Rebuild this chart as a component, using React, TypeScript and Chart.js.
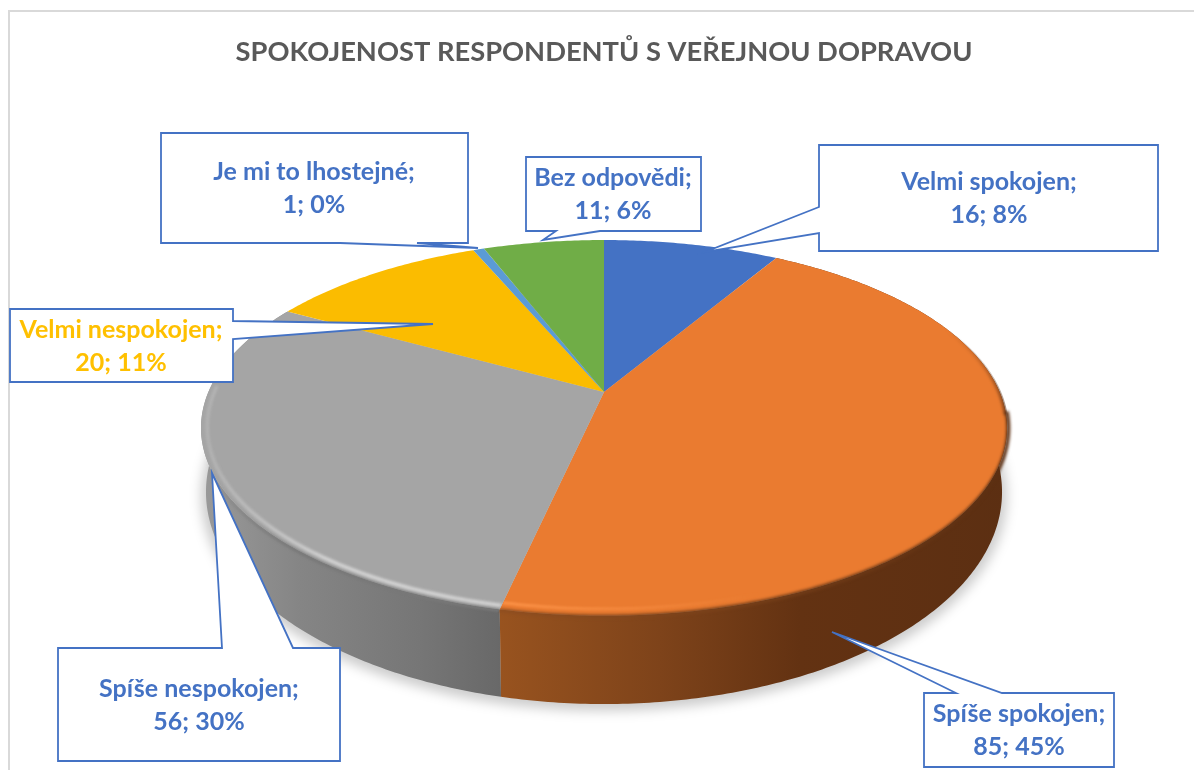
import React, { useEffect, useRef } from "react";
import { Chart, registerables } from "chart.js";

Chart.register(...registerables);

const titleText = "SPOKOJENOST RESPONDENTŮ S VEŘEJNOU DOPRAVOU";
const categories = ["Velmi spokojen", "Spíše spokojen", "Spíše nespokojen", "Velmi nespokojen", "Je mi to lhostejné", "Bez odpovědi"];
const values = [16, 85, 56, 20, 1, 11];
const percents = [8, 45, 30, 11, 0, 6];
const sliceColors = ["#4472C4", "#EA7B30", "#A5A5A5", "#FBBC00", "#5B9BD5", "#70AD47"];
const labelColors = ["#4472C4", "#4472C4", "#4472C4", "#FFC000", "#4472C4", "#4472C4"];

// Callout outlines (box + pointer), same order as categories.
const calloutShapes: number[][][] = [
  [[819, 145], [1158, 145], [1158, 251], [819, 251], [819, 233], [705, 252], [819, 207]],
  [[924, 693], [956, 693], [832, 632], [1002, 693], [1114, 693], [1114, 767], [924, 767]],
  [[58, 648], [222, 648], [212, 473], [293, 648], [340, 648], [340, 761], [58, 761]],
  [[10, 309], [233, 309], [233, 321], [433, 324], [233, 339], [233, 382], [10, 382]],
  [[161, 133], [468, 133], [468, 243], [417, 243], [478, 248], [340, 243], [161, 243]],
  [[526, 157], [701, 157], [701, 231], [600, 231], [543, 240], [556, 231], [526, 231]],
];
const calloutCentres = [[989, 198], [1019, 730], [199, 704.5], [121, 345.5], [314, 188], [613, 194]];

// Perspective projection of the pie disc.
const topDisc = { cx: 604, cy: 392, a: 395.6, b: 181, k: 0.191 };
const baseDisc = { cx: 604, cy: 451.5, a: 390.7, b: 204.3, k: 0.191 };
const FONT = "Lato, 'Open Sans', sans-serif";

type Disc = typeof topDisc;
const project = (d: Disc, arcAngle: number, r = 1) => {
  const t = arcAngle + Math.PI / 2;
  const X = Math.sin(t) * r;
  const Y = -Math.cos(t) * r;
  const w = 1 - d.k * Y;
  return [d.cx + (d.a * X) / w, d.cy + (d.b * Y) / w];
};
const rimPath = (ctx: CanvasRenderingContext2D, d: Disc, a0: number, a1: number, r = 1, move = true) => {
  const n = Math.max(2, Math.ceil(Math.abs(a1 - a0) * 90));
  for (let i = 0; i <= n; i++) {
    const [x, y] = project(d, a0 + ((a1 - a0) * i) / n, r);
    if (i === 0 && move) ctx.moveTo(x, y);
    else ctx.lineTo(x, y);
  }
};

const sideStops: Record<number, [number, string][]> = {
  1: [[500, "#98531F"], [660, "#7E431A"], [800, "#633212"], [1010, "#5C2F12"]],
  2: [[200, "#9A9A9A"], [300, "#858585"], [420, "#767676"], [503, "#686868"]],
};

const pie3d = {
  id: "pie3d",
  beforeDraw(chart: any) {
    const { ctx, width, height } = chart;
    ctx.save();
    ctx.fillStyle = "#FFFFFF";
    ctx.fillRect(0, 0, width, height);
    ctx.strokeStyle = "#D9D9D9";
    ctx.lineWidth = 2;
    ctx.beginPath();
    ctx.moveTo(9, height + 2);
    ctx.lineTo(9, 11);
    ctx.lineTo(width + 2, 11);
    ctx.stroke();
    ctx.restore();
  },
  beforeDatasetDraw(chart: any) {
    const { ctx } = chart;
    const arcs = chart.getDatasetMeta(0).data;

    // soft shadow under the base
    ctx.save();
    ctx.filter = "blur(6px)";
    ctx.fillStyle = "rgba(0,0,0,0.2)";
    ctx.beginPath();
    ctx.ellipse(604, 496, 403, 215, 0, 0, Math.PI * 2);
    ctx.fill();
    ctx.restore();

    // side walls
    [2, 1].forEach((i) => {
      const arc = arcs[i];
      const stops = sideStops[i];
      const g = ctx.createLinearGradient(stops[0][0], 0, stops[stops.length - 1][0], 0);
      const span = stops[stops.length - 1][0] - stops[0][0];
      stops.forEach(([x, c]) => g.addColorStop((x - stops[0][0]) / span, c));
      ctx.fillStyle = g;
      ctx.beginPath();
      rimPath(ctx, topDisc, arc.startAngle, arc.endAngle);
      rimPath(ctx, baseDisc, arc.endAngle, arc.startAngle, 1, false);
      ctx.closePath();
      ctx.fill();
    });

    // top faces
    arcs.forEach((arc: any, i: number) => {
      ctx.fillStyle = sliceColors[i];
      ctx.beginPath();
      ctx.moveTo(topDisc.cx, topDisc.cy);
      rimPath(ctx, topDisc, arc.startAngle, arc.endAngle, 1, false);
      ctx.closePath();
      ctx.fill();
    });

    // bevel on the visible rim
    const rim = (i: number, a0: number, a1: number, r: number, lw: number, blur: number, color: any, clipR = 1.03) => {
      ctx.save();
      ctx.beginPath();
      ctx.moveTo(topDisc.cx, topDisc.cy);
      rimPath(ctx, topDisc, arcs[i].startAngle, arcs[i].endAngle, clipR, false);
      ctx.closePath();
      ctx.clip();
      ctx.filter = `blur(${blur}px)`;
      ctx.strokeStyle = color;
      ctx.lineWidth = lw;
      ctx.beginPath();
      rimPath(ctx, topDisc, a0, a1, r);
      ctx.stroke();
      ctx.restore();
    };
    const toArc = (deg: number) => (deg * Math.PI) / 180 - Math.PI / 2;

    // thin dark fringe fading out towards the back right
    const gy = ctx.createLinearGradient(0, 330, 0, 440);
    gy.addColorStop(0, "rgba(92,47,18,0)");
    gy.addColorStop(1, "rgba(92,47,18,1)");
    rim(1, toArc(55), toArc(97), 1.0, 4, 1.4, gy, 1.004);

    const go = ctx.createLinearGradient(500, 0, 1005, 0);
    go.addColorStop(0, "#8F4E20");
    go.addColorStop(1, "#5C2F12");
    rim(1, toArc(96), toArc(192.4), 1.003, 4, 1.6, go);
    const gl = ctx.createLinearGradient(500, 0, 760, 0);
    gl.addColorStop(0, "rgba(255,150,75,0.85)");
    gl.addColorStop(1, "rgba(255,150,75,0)");
    rim(1, toArc(150), toArc(192.4), 0.975, 3, 1.2, gl);

    // grey bevel, fading out towards the far left
    const gd = ctx.createLinearGradient(205, 0, 300, 0);
    gd.addColorStop(0, "rgba(120,120,120,0)");
    gd.addColorStop(1, "rgba(120,120,120,1)");
    rim(2, toArc(192.4), toArc(270), 1.004, 3, 1.2, gd);
    const gh = ctx.createLinearGradient(205, 0, 330, 0);
    gh.addColorStop(0, "rgba(225,225,225,0.25)");
    gh.addColorStop(1, "rgba(235,235,235,0.8)");
    rim(2, toArc(192.4), toArc(272), 0.985, 3, 1.4, gh);
    return false;
  },
  afterDatasetsDraw(chart: any) {
    const { ctx } = chart;
    calloutShapes.forEach((shape, i) => {
      ctx.save();
      ctx.beginPath();
      shape.forEach(([x, y], j) => (j ? ctx.lineTo(x, y) : ctx.moveTo(x, y)));
      ctx.closePath();
      ctx.fillStyle = "#FFFFFF";
      ctx.fill();
      ctx.strokeStyle = "#4472C4";
      ctx.lineWidth = 1.8;
      ctx.lineJoin = "miter";
      ctx.stroke();
      ctx.fillStyle = labelColors[i];
      ctx.font = `bold 25px ${FONT}`;
      ctx.textAlign = "center";
      ctx.textBaseline = "middle";
      const [cx, cy] = calloutCentres[i];
      ctx.fillText(`${categories[i]};`, cx, cy - 16);
      ctx.fillText(`${values[i]}; ${percents[i]}%`, cx, cy + 17);
      ctx.restore();
    });
  },
};

export default function App() {
  const ref = useRef<HTMLCanvasElement>(null);
  useEffect(() => {
    document.body.style.margin = "0";
    const chart = new Chart(ref.current!, {
      type: "pie",
      data: {
        labels: categories,
        datasets: [{ data: values, backgroundColor: sliceColors, borderWidth: 0 }],
      },
      options: {
        animation: false,
        responsive: false,
        layout: { padding: { left: 14 } },
        plugins: {
          legend: { display: false },
          tooltip: { enabled: false },
          title: {
            display: true,
            text: titleText,
            fullSize: false,
            color: "#595959",
            font: { family: FONT, size: 27.3, weight: "bold" },
            padding: { top: 36, bottom: 10 },
          },
        },
      },
      plugins: [pie3d],
    } as any);
    return () => chart.destroy();
  }, []);
  return <canvas ref={ref} width={1194} height={770} style={{ display: "block" }} />;
}
